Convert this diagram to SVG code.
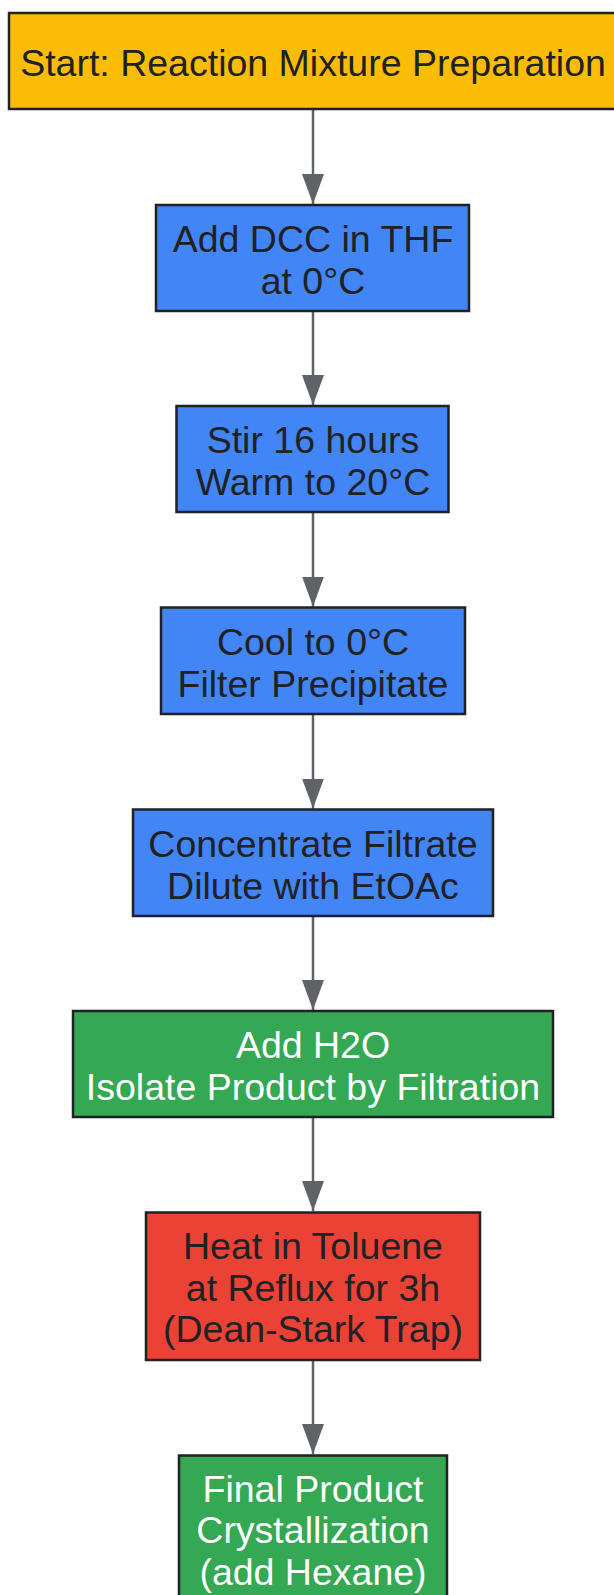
<svg xmlns="http://www.w3.org/2000/svg" width="614" height="1595" viewBox="0 0 614 1595">
<style>
.box{stroke:#202124;stroke-width:2.5}
.y{fill:#FBBC05}.b{fill:#4285F4}.g{fill:#34A853}.r{fill:#EA4335}
text{font-family:"Liberation Sans",Arial,sans-serif;font-size:37.5px;text-anchor:middle}
.dk{fill:#202124}.wt{fill:#ffffff}
.edge{stroke:#5F6368;stroke-width:2.5;fill:none}
</style>
<defs>
<marker id="arr" markerWidth="30" markerHeight="22" refX="30" refY="11" orient="auto" markerUnits="userSpaceOnUse" viewBox="0 0 30 22">
<path d="M0,0 L30,11 L0,22 Z" fill="#5F6368"/>
</marker>
</defs>
<rect width="614" height="1595" fill="#ffffff"/>
<g id="connectors">
<line class="edge" x1="313" y1="109" x2="313" y2="204" marker-end="url(#arr)"/>
<line class="edge" x1="313" y1="311" x2="313" y2="405" marker-end="url(#arr)"/>
<line class="edge" x1="313" y1="512" x2="313" y2="606.5" marker-end="url(#arr)"/>
<line class="edge" x1="313" y1="714" x2="313" y2="808.5" marker-end="url(#arr)"/>
<line class="edge" x1="313" y1="916" x2="313" y2="1010" marker-end="url(#arr)"/>
<line class="edge" x1="313" y1="1117" x2="313" y2="1211" marker-end="url(#arr)"/>
<line class="edge" x1="313" y1="1360" x2="313" y2="1454" marker-end="url(#arr)"/>
</g>
<g id="n1"><rect class="box y" x="9" y="13" width="610" height="96"/><text class="dk" x="313" y="76">Start: Reaction Mixture Preparation</text></g>
<g id="n2"><rect class="box b" x="156" y="205" width="313" height="106"/><text class="dk" x="313" y="252">Add DCC in THF</text><text class="dk" x="313" y="294">at 0°C</text></g>
<g id="n3"><rect class="box b" x="176.5" y="406" width="272" height="106"/><text class="dk" x="313" y="453">Stir 16 hours</text><text class="dk" x="313" y="495">Warm to 20°C</text></g>
<g id="n4"><rect class="box b" x="161" y="607.5" width="304" height="106.5"/><text class="dk" x="313" y="655">Cool to 0°C</text><text class="dk" x="313" y="697">Filter Precipitate</text></g>
<g id="n5"><rect class="box b" x="133" y="809.5" width="360" height="106.5"/><text class="dk" x="313" y="856.5">Concentrate Filtrate</text><text class="dk" x="313" y="898.5">Dilute with EtOAc</text></g>
<g id="n6"><rect class="box g" x="73" y="1011" width="480" height="106"/><text class="wt" x="313" y="1058">Add H2O</text><text class="wt" x="313" y="1100">Isolate Product by Filtration</text></g>
<g id="n7"><rect class="box r" x="146" y="1212.5" width="334" height="147.5"/><text class="dk" x="313" y="1259">Heat in Toluene</text><text class="dk" x="313" y="1300.5">at Reflux for 3h</text><text class="dk" x="313" y="1342">(Dean-Stark Trap)</text></g>
<g id="n8"><rect class="box g" x="179" y="1455.5" width="268" height="148"/><text class="wt" x="313" y="1501.5">Final Product</text><text class="wt" x="313" y="1543">Crystallization</text><text class="wt" x="313" y="1584.5">(add Hexane)</text></g>
</svg>
